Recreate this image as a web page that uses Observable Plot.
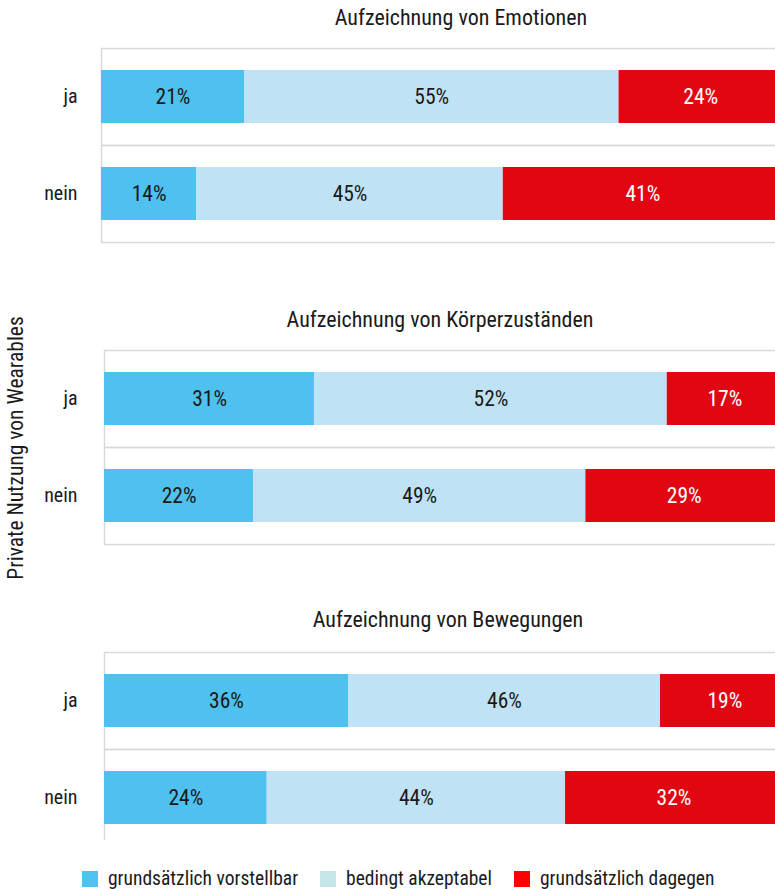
<!DOCTYPE html>
<html><head><meta charset="utf-8">
<script src="https://cdn.jsdelivr.net/npm/d3@7"></script>
<script src="https://cdn.jsdelivr.net/npm/@observablehq/plot@0.6"></script>
<style>
html,body{margin:0;padding:0;overflow:hidden;background:#fff}
#root{position:relative;width:775px;height:889px;overflow:hidden;font-family:"Roboto Condensed","Liberation Sans Narrow",Roboto,sans-serif;color:#1a1a1a}
.title{position:absolute;width:400px;margin-left:-200px;text-align:center;font-size:22px;line-height:22px;white-space:nowrap}
.panel{position:absolute;left:0;overflow:hidden}
.panel svg{max-width:none !important}
.ytitle{position:absolute;left:15px;top:448px;transform:translate(-50%,-50%) rotate(-90deg);font-size:21.5px;white-space:nowrap}
.legend{position:absolute;left:82px;top:869px;display:flex;gap:22px;font-size:19.5px;line-height:20px;white-space:nowrap}
.legend .item{display:flex;align-items:center}
.legend .sw{width:16px;height:16px;margin-right:10px}
</style></head>
<body><div id="root"></div>
<script>
// ---- data ----
const panels = ["Aufzeichnung von Emotionen", "Aufzeichnung von Körperzuständen", "Aufzeichnung von Bewegungen"];
const groups = ["ja", "nein"];
const categories = ["grundsätzlich vorstellbar", "bedingt akzeptabel", "grundsätzlich dagegen"];
const emotionen = [[21, 55, 24], [14, 45, 41]];
const koerper = [[31, 52, 17], [22, 49, 29]];
const bewegungen = [[36, 46, 19], [24, 44, 32]];
const yTitle = "Private Nutzung von Wearables";

// ---- styles ----
const barColors = ["#4EC1EF", "#BFE3F5", "#E20613"];
const legendColors = ["#4FC3F0", "#C4E6E8", "#FF0000"];
const labelColors = ["#1a1a1a", "#1a1a1a", "#ffffff"];
const panelTops = [0, 302, 604];
const panelHeights = [214, 214, 198];
const marginLefts = [101, 104, 104];
const titleCenters = [461, 440, 448];
const titleTops = [7, 309, 609];
const fontFamily = '"Roboto Condensed","Liberation Sans Narrow",Roboto,sans-serif';

const root = document.getElementById("root");
const series = [emotionen, koerper, bewegungen];

panels.forEach((title, p) => {
  const t = document.createElement("div");
  t.className = "title";
  t.style.left = titleCenters[p] + "px";
  t.style.top = titleTops[p] + "px";
  t.textContent = title;
  root.appendChild(t);

  const rows = [];
  groups.forEach((g, gi) => categories.forEach((c, ci) => rows.push({group: g, cat: c, ci, value: series[p][gi][ci]})));

  const chart = Plot.plot({
    width: 782, height: 214,
    marginLeft: marginLefts[p], marginRight: 0, marginTop: 10, marginBottom: 10,
    x: {domain: [0, 100], axis: null},
    y: {axis: null},
    fy: {domain: groups, padding: 0, axis: "left", label: null, tickSize: 0, tickPadding: marginLefts[p] - 77},
    color: {type: "identity"},
    style: {fontFamily, fontSize: "20px", color: "#1a1a1a", background: "transparent", maxWidth: "none"},
    marks: [
      Plot.frame({stroke: "#d9d9d9", strokeWidth: 1.5}),
      Plot.barX(rows, Plot.stackX({x: "value", fy: "group", z: "cat", fill: d => barColors[d.ci], insetTop: 22, insetBottom: 22})),
      Plot.text(rows, Plot.stackX({x: "value", fy: "group", z: "cat", text: d => d.value + "%", fill: d => labelColors[d.ci], fontSize: 21.5}))
    ]
  });
  const wrap = document.createElement("div");
  wrap.className = "panel";
  wrap.style.top = (panelTops[p] + 38) + "px";
  wrap.style.width = "775px";
  wrap.style.height = panelHeights[p] + "px";
  wrap.appendChild(chart);
  root.appendChild(wrap);
});

const yt = document.createElement("div");
yt.className = "ytitle";
yt.textContent = yTitle;
root.appendChild(yt);

const legend = document.createElement("div");
legend.className = "legend";
categories.forEach((c, i) => {
  const it = document.createElement("div");
  it.className = "item";
  const sw = document.createElement("div");
  sw.className = "sw";
  sw.style.background = legendColors[i];
  const tx = document.createElement("span");
  tx.textContent = c;
  it.appendChild(sw); it.appendChild(tx);
  legend.appendChild(it);
});
root.appendChild(legend);
</script>
</body></html>
